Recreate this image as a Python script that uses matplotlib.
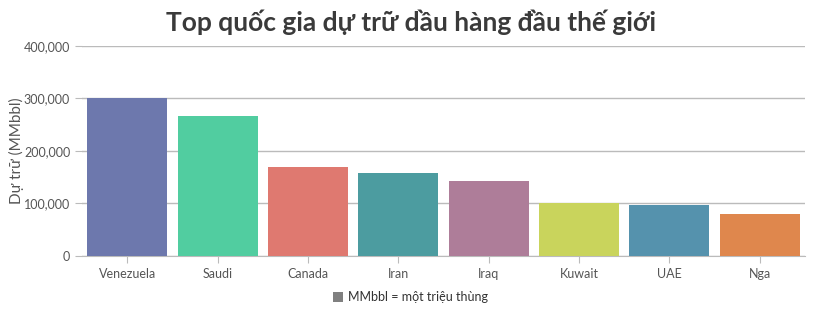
import matplotlib.pyplot as plt
from matplotlib.ticker import FuncFormatter
from matplotlib.patches import Patch

plt.rcParams['font.family'] = ['Lato', 'DejaVu Sans']

countries = ['Venezuela', 'Saudi', 'Canada', 'Iran', 'Iraq', 'Kuwait', 'UAE', 'Nga']
reserves = [300878, 266455, 169709, 158400, 142503, 101500, 97800, 80000]
colors = ['#6D78AD', '#51CDA0', '#DF7970', '#4C9CA0', '#AE7D99', '#C9D45C', '#5592AD', '#DF874D']
yticks = [0, 100000, 200000, 300000, 400000]

fig = plt.figure(figsize=(8.21, 3.19), dpi=100)
ax = fig.add_axes([0.0999, 0.1975, 0.8806, 0.6585])

x = range(len(countries))
ax.bar(x, reserves, width=0.885, color=colors, zorder=3)

ax.set_xlim(-0.5, len(countries) - 0.5)
ax.set_ylim(0, 400000)
ax.set_yticks(yticks)
ax.yaxis.set_major_formatter(FuncFormatter(lambda v, p: f'{int(v):,}'))
ax.set_xticks(list(x))
ax.set_xticklabels(countries)

ax.grid(axis='y', color='#BBBBBB', linewidth=1, zorder=0)
for s in ['top', 'right', 'left']:
    ax.spines[s].set_visible(False)
ax.spines['bottom'].set_color('#BBBBBB')
ax.tick_params(axis='both', colors='#BBBBBB', labelcolor='#555555', labelsize=9, length=5)

ax.set_ylabel('Dự trữ (MMbbl)', fontsize=11, color='#555555')
ax.yaxis.set_label_coords(-0.08, 0.5)

fig.suptitle('Top quốc gia dự trữ dầu hàng đầu thế giới', x=0.5, y=0.97,
             fontsize=19, fontweight='bold', color='#3A3A3A')

handle = Patch(facecolor='#808080', edgecolor='none')
fig.legend([handle], ['MMbbl = một triệu thùng'], loc='center', bbox_to_anchor=(0.5, 0.068),
           frameon=False, fontsize=9, handlelength=0.8, handleheight=0.8,
           handletextpad=0.4, labelcolor='#333333')

fig.savefig('out.png', dpi=100)
